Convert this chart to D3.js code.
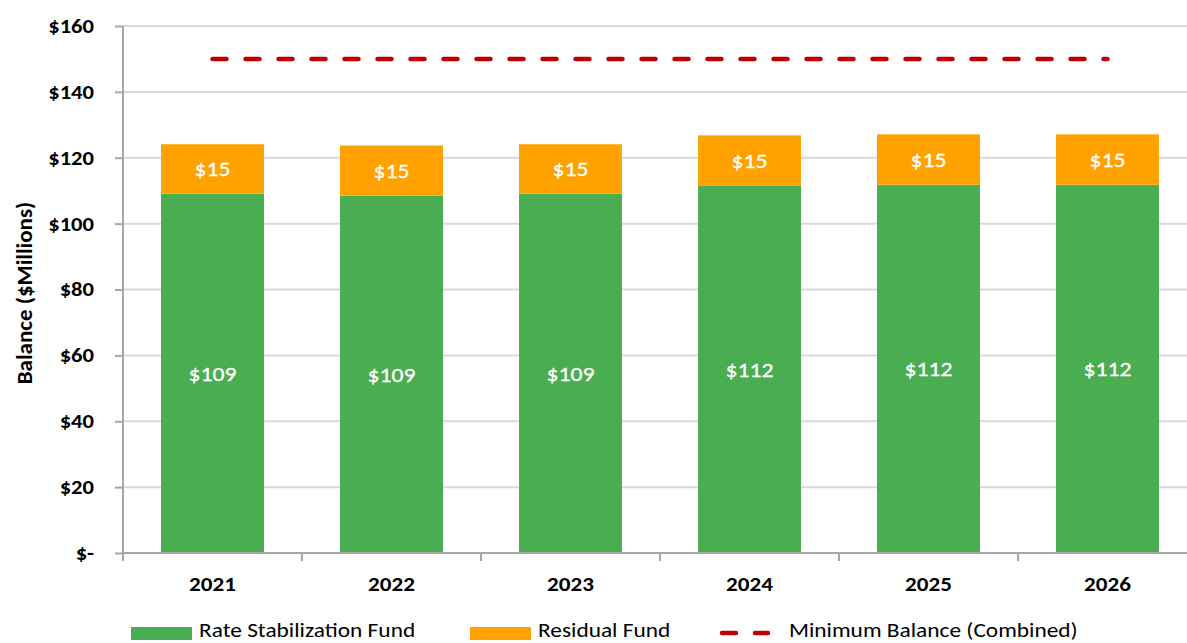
<!DOCTYPE html>
<head>
  <meta charset="utf-8">
  <script src="https://d3js.org/d3.v7.min.js"></script>
  <style>
    body { margin:0; padding:0; background:#fff; }
    svg { display:block; font-family: Carlito, Lato, "Open Sans", sans-serif; }
  </style>
</head>
<body>
  <script>
    // chart data
    var years = ["2021", "2022", "2023", "2024", "2025", "2026"];
    var rateStabilization = [109.1, 108.5, 109.1, 111.6, 111.8, 111.8];
    var residual = [15.0, 15.2, 15.0, 15.2, 15.3, 15.3];
    var minimumBalance = 150;
    var yTicks = [0, 20, 40, 60, 80, 100, 120, 140, 160];
    var seriesNames = ["Rate Stabilization Fund", "Residual Fund", "Minimum Balance (Combined)"];

    var width = 1187, height = 643;
    var margin = {top:26, right:-10, bottom:90, left:123};
    var sx = 1.13; // text in the source is a bit wide

    var green = "#4aad52", orange = "#ffa200", red = "#c00000";

    var svg = d3.select("body").append("svg")
      .attr("width", width)
      .attr("height", height);

    var x = d3.scaleBand()
      .domain(years)
      .range([margin.left, width - margin.right])
      .paddingInner(0.425)
      .paddingOuter(0.2125);

    var y = d3.scaleLinear()
      .domain([0, 160])
      .range([height - margin.bottom, margin.top]);

    // gridlines
    svg.append("g").selectAll("line")
      .data(yTicks.filter(function(d) { return d > 0; }))
      .enter().append("line")
      .attr("x1", margin.left)
      .attr("x2", width - margin.right)
      .attr("y1", function(d) { return y(d); })
      .attr("y2", function(d) { return y(d); })
      .style("stroke", "#d9d9d9")
      .style("stroke-width", 2);

    // stacked bars
    var stack = years.map(function(yr, i) {
      return {year: yr, rsf: rateStabilization[i], res: residual[i]};
    });

    var bars = svg.append("g");
    bars.selectAll(".rsf")
      .data(stack)
      .enter().append("rect")
      .attr("class", "rsf")
      .attr("x", function(d) { return x(d.year); })
      .attr("width", x.bandwidth())
      .attr("y", function(d) { return y(d.rsf); })
      .attr("height", function(d) { return y(0) - y(d.rsf); })
      .style("fill", green);

    bars.selectAll(".res")
      .data(stack)
      .enter().append("rect")
      .attr("class", "res")
      .attr("x", function(d) { return x(d.year); })
      .attr("width", x.bandwidth())
      .attr("y", function(d) { return y(d.rsf + d.res); })
      .attr("height", function(d) { return y(d.rsf) - y(d.rsf + d.res); })
      .style("fill", orange);

    // data labels
    var labels = svg.append("g")
      .style("fill", "#fff")
      .style("font-size", "21px")
      .style("stroke", "#fff")
      .style("stroke-width", 0.3)
      .attr("text-anchor", "middle");

    labels.selectAll(".lab-rsf")
      .data(stack)
      .enter().append("text")
      .attr("transform", function(d) {
        return "translate(" + (x(d.year) + x.bandwidth() / 2) + "," + y(d.rsf / 2) + ") scale(" + sx + ",1)";
      })
      .attr("dy", "0.35em")
      .text(function(d) { return "$" + Math.round(d.rsf); });

    labels.selectAll(".lab-res")
      .data(stack)
      .enter().append("text")
      .attr("transform", function(d) {
        return "translate(" + (x(d.year) + x.bandwidth() / 2) + "," + y(d.rsf + d.res / 2) + ") scale(" + sx + ",1)";
      })
      .attr("dy", "0.35em")
      .text(function(d) { return "$" + Math.round(d.res); });

    // minimum balance line
    var line = d3.line()
      .x(function(d) { return x(d) + x.bandwidth() / 2; })
      .y(function() { return y(minimumBalance); });

    svg.append("path")
      .datum(years)
      .attr("d", line)
      .style("fill", "none")
      .style("stroke", red)
      .style("stroke-width", 4.5)
      .style("stroke-linecap", "round")
      .style("stroke-dasharray", "14,19");

    // y axis
    var yAxis = d3.axisLeft(y)
      .tickValues(yTicks)
      .tickSize(8)
      .tickFormat(function(d) { return d === 0 ? "$-" : "$" + d; });

    var gy = svg.append("g")
      .attr("transform", "translate(" + margin.left + ",0)")
      .call(yAxis);
    gy.select(".domain").style("stroke", "#a6a6a6").style("stroke-width", 2)
      .attr("d", "M0," + y(160) + "V" + y(0));
    gy.selectAll(".tick line").style("stroke", "#a6a6a6").style("stroke-width", 2);
    gy.selectAll(".tick text")
      .attr("x", -29 / sx)
      .attr("transform", "scale(" + sx + ",1)")
      .style("font-size", "20px")
      .style("font-weight", "bold")
      .style("fill", "#000")
      .style("font-family", "Carlito, Lato, sans-serif");

    // x axis
    var xAxis = d3.axisBottom(x).tickSize(0);
    var gx = svg.append("g")
      .attr("transform", "translate(0," + y(0) + ")")
      .call(xAxis);
    gx.select(".domain").style("stroke", "#a6a6a6").style("stroke-width", 2)
      .attr("d", "M" + margin.left + ",0H" + (width - margin.right));
    gx.selectAll(".tick text")
      .attr("dy", null)
      .attr("y", 38)
      .attr("transform", "scale(1.1,1)")
      .style("font-size", "21px")
      .style("font-weight", "bold")
      .style("fill", "#000")
      .style("font-family", "Carlito, Lato, sans-serif");

    // category boundary ticks
    var step = x.step();
    gx.append("g").selectAll("line")
      .data(d3.range(years.length + 1))
      .enter().append("line")
      .attr("x1", function(i) { return margin.left + i * step; })
      .attr("x2", function(i) { return margin.left + i * step; })
      .attr("y1", 0)
      .attr("y2", 8)
      .style("stroke", "#a6a6a6")
      .style("stroke-width", 2);

    // y axis title
    svg.append("text")
      .attr("transform", "translate(32,293) rotate(-90)")
      .attr("text-anchor", "middle")
      .style("font-size", "23px")
      .style("font-weight", "bold")
      .text("Balance ($Millions)");

    // legend
    var legend = svg.append("g").attr("transform", "translate(0,637)");
    var legendItems = [
      {name: seriesNames[0], x: 131, type: "rect", color: green},
      {name: seriesNames[1], x: 470, type: "rect", color: orange},
      {name: seriesNames[2], x: 720, type: "line", color: red}
    ];
    legendItems.forEach(function(d) {
      var g = legend.append("g").attr("transform", "translate(" + d.x + ",0)");
      if (d.type === "rect") {
        g.append("rect").attr("x", 0).attr("y", -10).attr("width", 61).attr("height", 13)
          .style("fill", d.color);
        g.append("text").attr("transform", "translate(68,0) scale(1.14,1)")
          .style("font-size", "20.5px").text(d.name);
      } else {
        g.append("line").attr("x1", 2).attr("x2", 48).attr("y1", -4).attr("y2", -4)
          .style("stroke", d.color).style("stroke-width", 4.5)
          .style("stroke-linecap", "round").style("stroke-dasharray", "14,19");
        g.append("text").attr("transform", "translate(69,0) scale(1.14,1)")
          .style("font-size", "20.5px").text(d.name);
      }
    });
  </script>
</body>
